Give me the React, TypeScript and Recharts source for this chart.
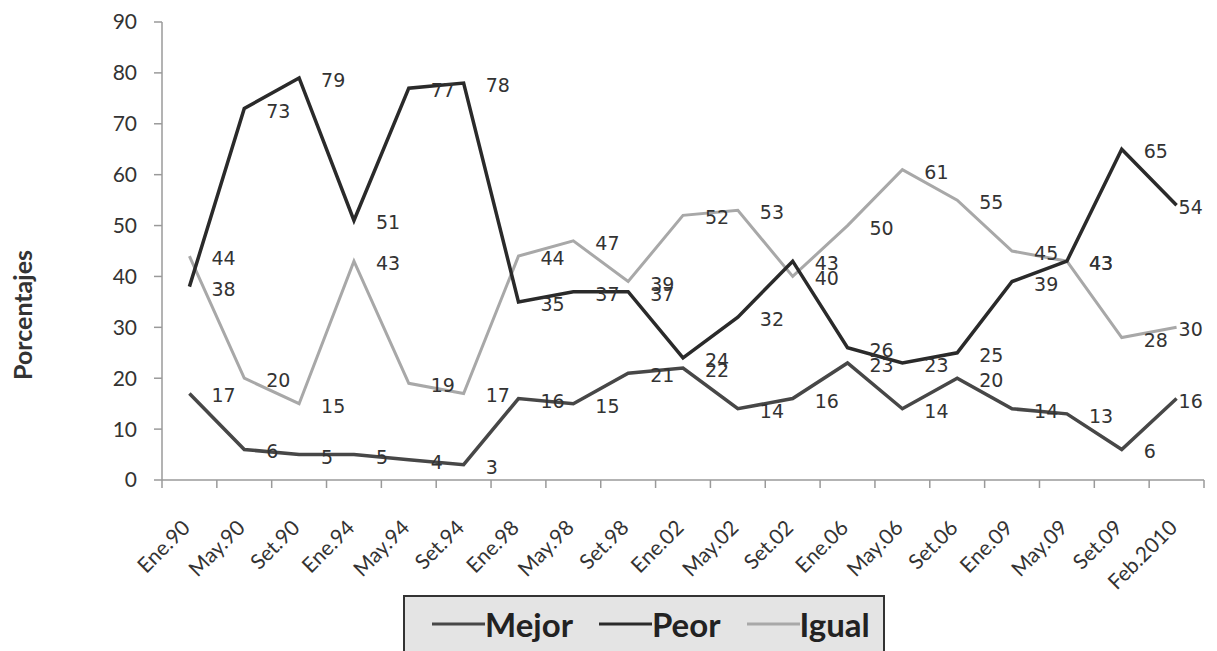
import { LineChart, Line, XAxis, YAxis, LabelList, Legend, Label } from 'recharts'

const categories = [
  'Ene.90', 'May.90', 'Set.90', 'Ene.94', 'May.94', 'Set.94', 'Ene.98', 'May.98', 'Set.98',
  'Ene.02', 'May.02', 'Set.02', 'Ene.06', 'May.06', 'Set.06', 'Ene.09', 'May.09', 'Set.09', 'Feb.2010',
]
const mejor = [17, 6, 5, 5, 4, 3, 16, 15, 21, 22, 14, 16, 23, 14, 20, 14, 13, 6, 16]
const peor = [38, 73, 79, 51, 77, 78, 35, 37, 37, 24, 32, 43, 26, 23, 25, 39, 43, 65, 54]
const igual = [44, 20, 15, 43, 19, 17, 44, 47, 39, 52, 53, 40, 50, 61, 55, 45, 43, 28, 30]
const yTicks = [0, 10, 20, 30, 40, 50, 60, 70, 80, 90]
const seriesNames = ['Mejor', 'Peor', 'Igual']

const data = categories.map((c, i) => ({ idx: i, cat: c, mejor: mejor[i], peor: peor[i], igual: igual[i] }))

// label at each category centre, tick mark at each boundary (Excel style)
const xTicks = categories.flatMap((_, i) => [i - 0.5, i]).concat(categories.length - 0.5)

const AXIS = '#9a9a9a'
const TEXT = '#333'

// eslint-disable-next-line @typescript-eslint/no-explicit-any
function XTick({ x, y, payload }: any) {
  const v = payload.value
  if (!Number.isInteger(v)) {
    return <line x1={x} y1={y} x2={x} y2={y + 8} stroke={AXIS} strokeWidth={1.5} />
  }
  const tx = x + 2
  const ty = y + 49
  return (
    <text x={tx} y={ty} textAnchor="end" transform={`rotate(-45, ${tx}, ${ty})`}
      fontFamily="Lato" fontSize={21} fill={TEXT}>
      {categories[v]}
    </text>
  )
}

// data label to the right of the point; the last one is pulled in so it stays on the page
// eslint-disable-next-line @typescript-eslint/no-explicit-any
function PointLabel(props: any) {
  const vb = props.viewBox || props
  const px = vb.x + (vb.width || 0) / 2
  const py = vb.y + (vb.height || 0) / 2
  const last = props.index === categories.length - 1
  return (
    <text x={px + (last ? 2 : 22)} y={py + 2} dominantBaseline="central"
      fontFamily="DejaVu Sans" fontSize={19} fill={TEXT}>
      {props.value}
    </text>
  )
}

// eslint-disable-next-line @typescript-eslint/no-explicit-any
function LegendBox({ payload }: any) {
  const items = [...(payload || [])].sort(
    (a, b) => seriesNames.indexOf(a.value) - seriesNames.indexOf(b.value)
  )
  return (
    <div style={{
      boxSizing: 'border-box', height: 56, width: 482, border: '2px solid #333', borderBottom: 'none',
      background: '#e4e4e4', display: 'flex', alignItems: 'center', paddingLeft: 27,
    }}>
      {items.map((p) => (
        <div key={p.value} style={{ display: 'flex', alignItems: 'center', marginRight: 26 }}>
          <svg width={53} height={6}>
            <line x1={0} y1={3} x2={53} y2={3} stroke={p.color} strokeWidth={3} />
          </svg>
          <span style={{ fontFamily: 'Lato', fontWeight: 700, fontSize: 33, color: '#222', lineHeight: 1 }}>
            {p.value}
          </span>
        </div>
      ))}
    </div>
  )
}

export default function App() {
  return (
    <div style={{ position: 'absolute', left: 0, top: 0, background: '#fff' }}>
      <LineChart width={1217} height={651} data={data} margin={{ top: 22, right: 13, left: 0, bottom: 0 }}>
        <XAxis
          dataKey="idx"
          type="number"
          domain={[-0.5, categories.length - 0.5]}
          ticks={xTicks}
          interval={0}
          height={115}
          tickSize={0}
          tickMargin={0}
          tickLine={false}
          axisLine={{ stroke: AXIS, strokeWidth: 1.5 }}
          tick={<XTick />}
        />
        <YAxis
          type="number"
          domain={[0, 90]}
          ticks={yTicks}
          interval={0}
          width={162}
          tickSize={8}
          tickMargin={17}
          axisLine={{ stroke: AXIS, strokeWidth: 1.5 }}
          tickLine={{ stroke: AXIS, strokeWidth: 1.5 }}
          tick={{ fontFamily: 'Lato', fontSize: 21, fill: TEXT }}
        >
          <Label
            content={() => (
              <text x={22} y={315} transform="rotate(-90, 22, 315)" textAnchor="middle"
                dominantBaseline="central" fontFamily="Lato" fontWeight={700} fontSize={25} fill={TEXT}>
                Porcentajes
              </text>
            )}
          />
        </YAxis>
        <Legend
          verticalAlign="bottom"
          content={<LegendBox />}
          wrapperStyle={{ left: 403, top: 595, bottom: 'auto', width: 482 }}
        />
        <Line name="Igual" dataKey="igual" stroke="#a8a8a8" strokeWidth={3} dot={false}
          isAnimationActive={false}>
          <LabelList dataKey="igual" content={<PointLabel />} />
        </Line>
        <Line name="Mejor" dataKey="mejor" stroke="#474747" strokeWidth={3.5} dot={false}
          isAnimationActive={false}>
          <LabelList dataKey="mejor" content={<PointLabel />} />
        </Line>
        <Line name="Peor" dataKey="peor" stroke="#2a2a2a" strokeWidth={3.5} dot={false}
          isAnimationActive={false}>
          <LabelList dataKey="peor" content={<PointLabel />} />
        </Line>
      </LineChart>
    </div>
  )
}
